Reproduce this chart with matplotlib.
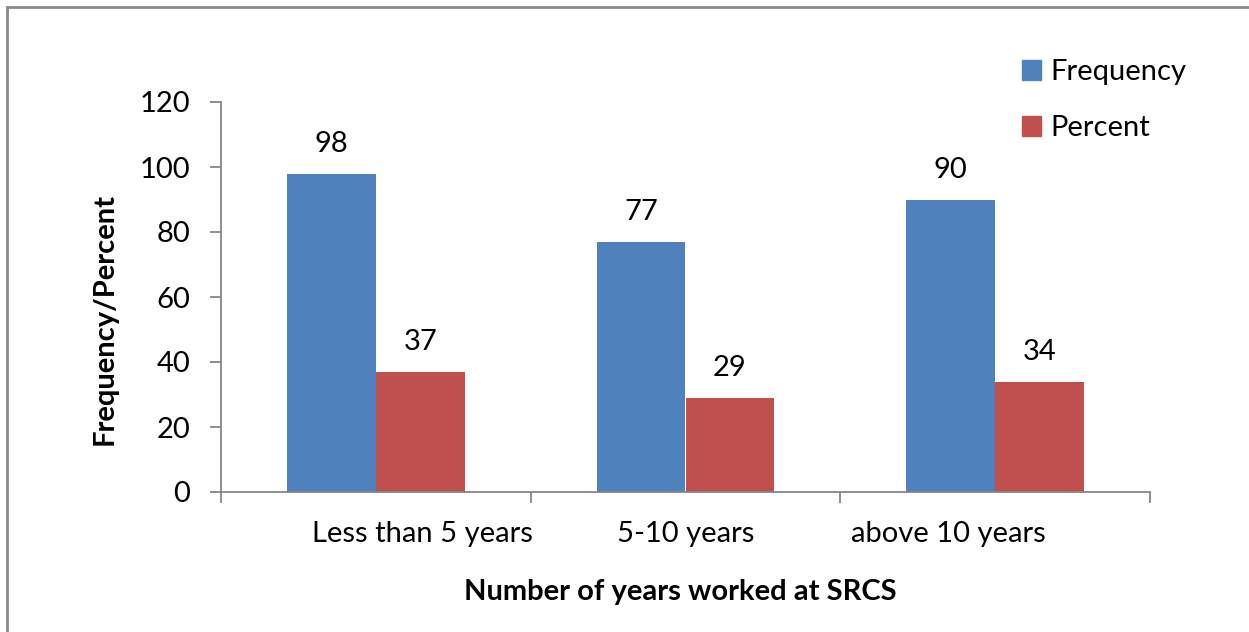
import numpy as np
import matplotlib
matplotlib.use("Agg")
import matplotlib.pyplot as plt
from matplotlib.patches import Rectangle, Patch

categories = ["Less than 5 years", "5-10 years", "above 10 years"]
frequency = [98, 77, 90]
percent = [37, 29, 34]
yticks = [0, 20, 40, 60, 80, 100, 120]

BLUE = "#4F81BD"
RED = "#C0504D"
GRAY = "#868686"
FS = 21

plt.rcParams["font.family"] = ["Lato", "DejaVu Sans"]

W, H = 1249, 632
fig = plt.figure(figsize=(W / 100, H / 100), dpi=100)

# plot area in pixel terms
left, right, top, bottom = 221, 1150, 102, 492
ax = fig.add_axes([left / W, 1 - bottom / H, (right - left) / W, (bottom - top) / H])

x = np.arange(len(categories))
bw = 0.287
ax.bar(x - bw / 2, frequency, width=bw, color=BLUE, label="Frequency")
ax.bar(x + bw / 2, percent, width=bw, color=RED, label="Percent")

for xi, v in zip(x - bw / 2, frequency):
    ax.annotate(str(v), (xi, v), xytext=(0, 12), textcoords="offset points",
                ha="center", va="bottom", fontsize=FS)
for xi, v in zip(x + bw / 2, percent):
    ax.annotate(str(v), (xi, v), xytext=(0, 12), textcoords="offset points",
                ha="center", va="bottom", fontsize=FS)

ax.set_xlim(-0.5, len(categories) - 0.5)
ax.set_ylim(0, 120)
ax.set_yticks(yticks)
ax.tick_params(axis="y", length=8, width=1.3, color=GRAY, pad=14, labelsize=FS)

# category boundaries as ticks, labels on minor ticks
ax.set_xticks(np.arange(len(categories) + 1) - 0.5)
ax.set_xticklabels([])
ax.tick_params(axis="x", which="major", length=8, width=1.3, color=GRAY)
lab_pos = 1 + (x - 1) * 0.85
ax.set_xticks(lab_pos, minor=True)
ax.set_xticklabels(categories, minor=True, fontsize=FS)
ax.tick_params(axis="x", which="minor", length=0, pad=21)

for s in ["top", "right"]:
    ax.spines[s].set_visible(False)
for s in ["left", "bottom"]:
    ax.spines[s].set_color(GRAY)
    ax.spines[s].set_linewidth(1.3)

fig.text(105 / W, 1 - 319 / H, "Frequency/Percent", rotation=90, ha="center",
         va="center", fontsize=FS, fontweight="bold")
fig.text(680 / W, 1 - 592 / H, "Number of years worked at SRCS", ha="center",
         va="center", fontsize=FS, fontweight="bold")

handles = [Patch(color=BLUE), Patch(color=RED)]
fig.legend(handles, ["Frequency", "Percent"], loc="upper left",
           bbox_to_anchor=(996 / W, 1 - 33 / H), frameon=False, fontsize=FS,
           handlelength=0.65, handleheight=0.65, handletextpad=0.3, labelspacing=1.03)

# outer chart border
fig.add_artist(Rectangle((7 / W, -0.1), 1.2, 1 - 7 / H + 0.1, transform=fig.transFigure,
                         fill=False, edgecolor="#898989", linewidth=2))

fig.savefig("out.png", dpi=100)
